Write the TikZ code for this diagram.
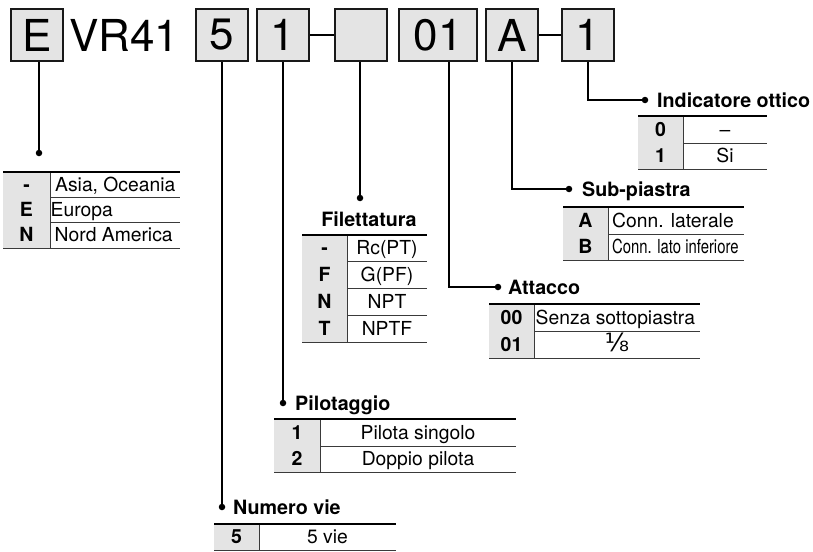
\documentclass[tikz,border=0pt]{standalone}
\usepackage{fontspec}
\usepackage{graphicx}
\setmainfont{TeX Gyre Heros}
\newfontfamily\fracfont{DejaVu Sans}
\definecolor{kf}{HTML}{E4E4E4}
\definecolor{ln}{HTML}{3A3A3A}
\tikzset{
  topbox/.style={draw=black!90, line width=2pt, fill=kf, minimum width=52pt,
    minimum height=52pt, inner sep=0pt, font=\fontsize{44}{44}\selectfont},
  conn/.style={line width=2pt, black},
  dotn/.style={circle, fill=black, inner sep=0pt, minimum size=6.5pt},
  ttl/.style={inner sep=0pt, font=\fontsize{19.7}{20}\selectfont\bfseries},
  keyt/.style={inner sep=0pt, font=\fontsize{19.5}{20}\selectfont\bfseries},
  valt/.style={inner sep=0pt, font=\fontsize{19.3}{20}\selectfont},
  topline/.style={line width=2.2pt, black},
  rowline/.style={line width=1pt, ln},
  sepline/.style={line width=1pt, ln},
}
% name, left, sep, right, top, bottom, key, value  (value centred)
\newcommand\mkrowc[8]{%
  \fill[kf] (#2,#5) rectangle (#3,#6);
  \draw[sepline] (#3,#5) -- (#3,#6);
  \draw[rowline] (#2,#6) -- (#4,#6);
  \node[keyt, anchor=base] (#1k) at ({(#2+#3)/2},{(#5+#6)/2+6.5}) {#7};
  \node[valt, anchor=base] (#1v) at ({(#3+#4)/2},{(#5+#6)/2+6.5}) {#8};
}
% name, left, sep, right, top, bottom, key, value, x offset of value (value left aligned)
\newcommand\mkrowl[9]{%
  \fill[kf] (#2,#5) rectangle (#3,#6);
  \draw[sepline] (#3,#5) -- (#3,#6);
  \draw[rowline] (#2,#6) -- (#4,#6);
  \node[keyt, anchor=base] (#1k) at ({(#2+#3)/2},{(#5+#6)/2+6.5}) {#7};
  \node[valt, anchor=base west] (#1v) at ({#3+#9},{(#5+#6)/2+6.5}) {#8};
}
\begin{document}
\begin{tikzpicture}[x=1pt,y=-1pt]
\useasboundingbox (0,0) rectangle (813,551);
% top code boxes
\node[topbox] (bE) at (37,35) {E};
\node[inner sep=0pt, anchor=base west, font=\fontsize{44}{44}\selectfont] (vr) at (69,52) {VR41};
\node[topbox] (b5) at (222,35) {5};
\node[topbox] (b1) at (283,35) {1};
\node[topbox] (bF) at (361,35) {};
\node[topbox, minimum width=78pt] (b01) at (438,35) {01};
\node[topbox] (bA) at (512,35) {A};
\node[topbox] (bI) at (588,35) {1};
\draw[conn] (b1.east) -- (bF.west);
\draw[conn] (bA.east) -- (bI.west);
% dots
\node[dotn] (dE) at (39,153) {};
\node[dotn] (d5) at (222,507) {};
\node[dotn] (d1) at (283,403) {};
\node[dotn] (dF) at (360,198) {};
\node[dotn] (dAtt) at (498,287) {};
\node[dotn] (dSub) at (569,189) {};
\node[dotn] (dInd) at (645,100) {};
% connectors
\draw[conn] (bE.south -| dE) -- (dE);
\draw[conn] (b5.south) -- (d5);
\draw[conn] (b1.south) -- (d1);
\draw[conn] (bF.south -| dF) -- (dF);
\draw[conn] ([xshift=11pt]b01.south) |- (dAtt);
\draw[conn] (bA.south) |- (dSub);
\draw[conn] (bI.south) |- (dInd);
% titles
\node[ttl, anchor=base] (tF) at (369,226) {Filettatura};
\node[ttl, anchor=base west] (tAtt) at (508,294) {Attacco};
\node[ttl, anchor=base west] (tSub) at (582,196) {Sub-piastra};
\node[ttl, anchor=base west] (tInd) at (657,107) {Indicatore ottico};
\node[ttl, anchor=base west] (tPil) at (295,410) {Pilotaggio};
\node[ttl, anchor=base west] (tNum) at (233,514) {Numero vie};
% E table
\mkrowl{ea}{3}{50}{180}{172}{197}{-}{Asia, Oceania}{5}
\mkrowl{eb}{3}{50}{180}{197}{222}{E}{Europa}{0.5}
\mkrowl{ec}{3}{50}{180}{222}{248}{N}{Nord America}{4.5}
\draw[topline] (3,172) -- (180,172);
% Filettatura table
\mkrowc{fa}{302}{347}{427}{235}{261}{-}{Rc(PT)}
\mkrowc{fb}{302}{347}{427}{261}{288}{F}{G(PF)}
\mkrowc{fc}{302}{347}{427}{288}{315}{N}{NPT}
\mkrowc{fd}{302}{347}{427}{315}{342}{T}{NPTF}
\draw[topline] (302,235) -- (427,235);
% Attacco table
\mkrowl{aa}{489}{534}{700}{304}{331}{00}{Senza sottopiastra}{1.5}
\mkrowc{ab}{489}{534}{700}{331}{358}{01}{{\fracfont\fontsize{25}{25}\selectfont ⅛}}
\draw[topline] (489,304) -- (700,304);
% Sub-piastra table
\mkrowl{sa}{563}{608}{744}{207}{234}{A}{Conn. laterale}{4}
\mkrowl{sb}{563}{608}{744}{234}{260}{B}{\scalebox{0.77}[1]{Conn. lato inferiore}}{4}
\draw[topline] (563,207) -- (744,207);
% Indicatore table
\mkrowc{ia}{638}{683}{767}{116}{143}{0}{–}
\mkrowc{ib}{638}{683}{767}{143}{169}{1}{Si}
\draw[topline] (638,116) -- (767,116);
% Pilotaggio table
\mkrowc{pa}{274}{320}{516}{419}{446}{1}{Pilota singolo}
\mkrowc{pb}{274}{320}{516}{446}{472}{2}{Doppio pilota}
\draw[topline] (274,419) -- (516,419);
% Numero vie table
\mkrowc{na}{214}{259}{396}{524}{550}{5}{5 vie}
\draw[topline] (214,524) -- (396,524);
\end{tikzpicture}
\end{document}
